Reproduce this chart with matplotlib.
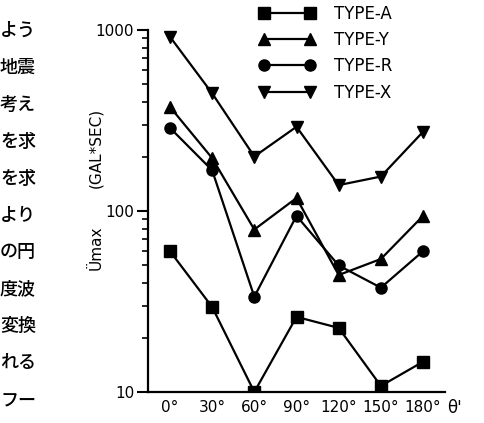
import matplotlib
matplotlib.use("Agg")
import matplotlib.pyplot as plt
from matplotlib.ticker import LogLocator, NullFormatter

angles = [0, 30, 60, 90, 120, 150, 180]
angle_labels = ["0°", "30°", "60°", "90°", "120°", "150°", "180°"]
type_a = [60, 29.5, 10, 26, 22.6, 10.8, 14.7]
type_y = [376, 196, 79, 118, 44.3, 54.3, 94]
type_r = [288, 168, 33.6, 94, 50, 37.7, 60]
type_x = [918, 447, 200, 292, 139, 155, 274]
series_names = ["TYPE-A", "TYPE-Y", "TYPE-R", "TYPE-X"]
jp_text = ["よう", "地震", "考え", "を求", "を求", "より", "の円", "度波", "変換", "れる", "フー"]

fig = plt.figure(figsize=(4.85, 4.23), dpi=100)
ax = fig.add_axes([148/485, 1-392/423, (445-148)/485, (392-30)/423])

styles = [("s", 8), ("^", 9), ("o", 8), ("v", 9)]
for vals, name, (m, ms) in zip([type_a, type_y, type_r, type_x], series_names, styles):
    ax.plot(angles, vals, color="black", lw=1.6, marker=m, ms=ms, label=name)

ax.set_yscale("log")
ax.set_ylim(10, 1000)
ax.set_xlim(-15.6, 195.6)
ax.set_yticks([10, 100, 1000])
ax.set_yticklabels(["10", "100", "1000"])
ax.yaxis.set_minor_locator(LogLocator(base=10, subs=range(2, 10)))
ax.yaxis.set_minor_formatter(NullFormatter())
ax.set_xticks(angles)
ax.set_xticklabels(angle_labels)
ax.tick_params(axis="x", length=0, pad=6, labelsize=11)
ax.tick_params(axis="y", which="major", length=8, width=1.5, labelsize=11, pad=2)
ax.tick_params(axis="y", which="minor", length=4, width=1.2)
for s in ["top", "right"]:
    ax.spines[s].set_visible(False)
for s in ["left", "bottom"]:
    ax.spines[s].set_linewidth(1.6)

fig.text(447/485, 1-408/423, "θ'", fontsize=12, va="center", ha="left")
fig.text(96/485, 1-248/423, "Ümax", rotation=90, fontsize=11, va="center", ha="center")
fig.text(96/485, 1-148/423, "(GAL*SEC)", rotation=90, fontsize=11, va="center", ha="center")

leg = ax.legend(loc="upper left", bbox_to_anchor=(257/485, 1-3/423), bbox_transform=fig.transFigure,
                frameon=False, numpoints=2, handlelength=3.35, handletextpad=1.2,
                labelspacing=0.5, fontsize=12, borderaxespad=0, borderpad=0.1)

for i, t in enumerate(jp_text):
    fig.text(0/485, 1-(31 + i*36.9)/423, t, fontsize=13, va="center", ha="left",
             family=["Noto Sans CJK JP", "DejaVu Sans"], fontweight="medium")

fig.savefig("out.png", dpi=100)
